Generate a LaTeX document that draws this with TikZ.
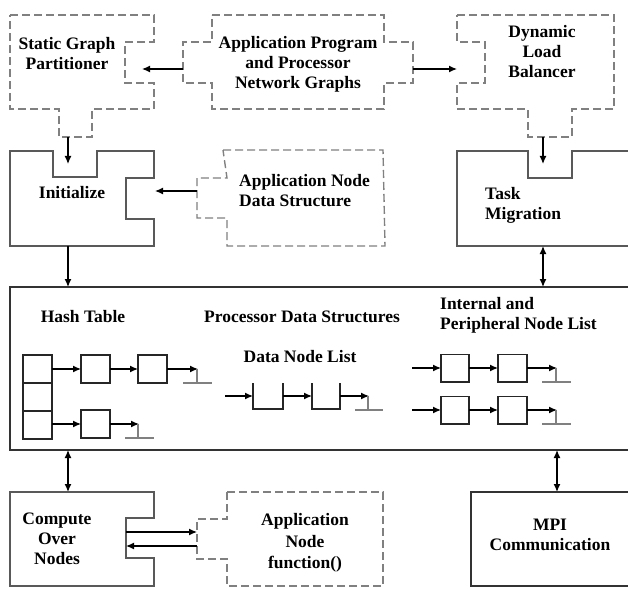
\documentclass[tikz,border=0pt]{standalone}
\usepackage{fontspec}
\setmainfont{Liberation Serif}
\usetikzlibrary{arrows.meta}
\begin{document}
\begin{tikzpicture}[x=1pt,y=-1pt,
  dbox/.style={draw=black!50, dash pattern=on 8pt off 4pt, line width=1.4pt},
  sbox/.style={draw=black!65, line width=1.4pt},
  bigbox/.style={draw=black!80, line width=1.3pt},
  lbl/.style={font=\fontsize{17.5}{20}\selectfont\bfseries, align=center, inner sep=0pt},
  arr/.style={-{Latex[length=8pt,width=7pt]}, line width=1.3pt, black},
  darr/.style={{Latex[length=8pt,width=7pt]}-{Latex[length=8pt,width=7pt]}, line width=1.3pt, black},
  cell/.style={draw=black!85, line width=1.2pt},
  gnd/.style={draw=black!50, line width=1.5pt}]
\path[fill=white] (0,0) rectangle (628,588);
\useasboundingbox (0,0) rectangle (628,588);
\clip (0,0) rectangle (628,588);

% ---------- top row (dashed) ----------
\draw[dbox] (10,15) -- (154,15) -- (154,42) -- (125,42) -- (125,83) -- (154,83) -- (154,109)
  -- (92,109) -- (92,137) -- (59,137) -- (59,109) -- (10,109) -- cycle;
\node[lbl] (sgp) at (67,54) {Static Graph\\Partitioner};

\draw[dbox] (212,15) -- (384,15) -- (384,42) -- (413,42) -- (413,83) -- (384,83) -- (384,109)
  -- (212,109) -- (212,83) -- (183,83) -- (183,42) -- (212,42) -- cycle;
\node[lbl] (app) at (298,64) {Application Program\\and Processor\\Network Graphs};

\draw[dbox] (457,15) -- (614,15) -- (614,109) -- (572,109) -- (572,137) -- (528,137) -- (528,109)
  -- (457,109) -- (457,83) -- (485,83) -- (485,42) -- (457,42) -- cycle;
\node[lbl] (dlb) at (542,52) {Dynamic\\Load\\Balancer};

\coordinate (appL) at (183,69);
\coordinate (sgpIn) at (142,69);
\coordinate (appR) at (413,69);
\coordinate (dlbIn) at (457,69);
\draw[arr] (appL) -- (sgpIn);
\draw[arr] (appR) -- (dlbIn);

\coordinate (sgpTab) at (68,137);
\coordinate (iniIn) at (68,164);
\coordinate (dlbTab) at (543,137);
\coordinate (tmIn) at (543,164);
\draw[arr] (sgpTab) -- (iniIn);
\draw[arr] (dlbTab) -- (tmIn);

% ---------- second row ----------
\draw[sbox] (10,151) -- (53,151) -- (53,177) -- (97,177) -- (97,151) -- (154,151) -- (154,178)
  -- (126,178) -- (126,219) -- (154,219) -- (154,246) -- (10,246) -- cycle;
\node[lbl] (ini) at (72,193) {Initialize};

\draw[dbox] (223,150) -- (383,150) -- (385,246) -- (227,246) -- (227,218) -- (197,218)
  -- (197,178) -- (227,178) -- cycle;
\node[lbl, align=left, anchor=west] (ands) at (239,191) {Application Node\\Data Structure};
\coordinate (andsL) at (197,191);
\coordinate (iniR) at (155,191);
\draw[arr] (andsL) -- (iniR);

\draw[sbox] (700,151) -- (572,151) -- (572,178) -- (528,178) -- (528,151) -- (457,151)
  -- (457,246) -- (700,246);
\node[lbl, align=left, anchor=west] (tm) at (485,205) {Task\\Migration};

% ---------- processor data structures ----------
\draw[bigbox] (700,287) -- (10,287) -- (10,450) -- (700,450);
\coordinate (iniB) at (68,246);
\coordinate (pdsT1) at (68,287);
\coordinate (tmB) at (543,246);
\coordinate (pdsT2) at (543,287);
\draw[arr] (iniB) -- (pdsT1);
\draw[darr] (tmB) -- (pdsT2);

\node[lbl] (hash) at (83,317) {Hash Table};
\node[lbl] (pds) at (302,317) {Processor Data Structures};
\node[lbl] (dnl) at (300,357) {Data Node List};
\node[lbl, align=left, anchor=west] (ipnl) at (440,315) {Internal and\\Peripheral Node List};

% hash table
\draw[cell] (23,355) rectangle (52,383);
\draw[cell] (23,383) rectangle (52,411);
\draw[cell] (23,411) rectangle (52,439);
\draw[cell] (81,355) rectangle (110,383);
\draw[cell] (138,355) rectangle (167,383);
\draw[cell] (81,410) rectangle (110,438);
\draw[arr] (52,369) -- (81,369);
\draw[arr] (110,369) -- (138,369);
\draw[arr] (167,369) -- (198,369);
\draw[gnd] (197,369) -- (197,383) (183,383) -- (212,383);
\draw[arr] (52,424) -- (81,424);
\draw[arr] (110,424) -- (139,424);
\draw[gnd] (138,424) -- (138,438) (125,438) -- (154,438);

% data node list
\draw[arr] (225,396) -- (253,396);
\draw[cell] (253,383) -- (253,409) -- (283,409) -- (283,383);
\draw[arr] (283,396) -- (312,396);
\draw[cell] (312,383) -- (312,409) -- (340,409) -- (340,383);
\draw[arr] (340,396) -- (369,396);
\draw[gnd] (368,396) -- (368,410) (355,410) -- (383,410);

% internal and peripheral node list
\foreach \yc in {368,410}{
  \draw[arr] (412,\yc) -- (441,\yc);
  \draw[cell] (441,\yc-13.5) rectangle (469,\yc+14);
  \draw[arr] (469,\yc) -- (498,\yc);
  \draw[cell] (498,\yc-13.5) rectangle (527,\yc+14);
  \draw[arr] (527,\yc) -- (557,\yc);
  \draw[gnd] (556,\yc) -- (556,\yc+14) (542,\yc+14) -- (571,\yc+14);
}

% ---------- bottom row ----------
\coordinate (pdsB1) at (68,450);
\coordinate (conT) at (68,492);
\coordinate (pdsB2) at (557,450);
\coordinate (mpiT) at (557,492);
\draw[darr] (pdsB1) -- (conT);
\draw[darr] (pdsB2) -- (mpiT);

\draw[sbox] (10,492) -- (154,492) -- (154,518) -- (126,518) -- (126,558) -- (154,558)
  -- (154,586) -- (10,586) -- cycle;
\node[lbl] (con) at (57,539) {Compute\\Over\\Nodes};

\draw[dbox] (227,492) -- (383,492) -- (383,586) -- (227,586) -- (227,559) -- (197,559)
  -- (197,519) -- (227,519) -- cycle;
\node[lbl, font=\fontsize{17.5}{21.5}\selectfont\bfseries] (anf) at (305,543) {Application\\Node\\function()};

\coordinate (conR1) at (126,532);
\coordinate (anfL1) at (197,532);
\coordinate (anfL2) at (197,546);
\coordinate (conR2) at (126,546);
\draw[arr] (conR1) -- (anfL1);
\draw[arr] (anfL2) -- (conR2);

\draw[bigbox] (700,492) -- (471,492) -- (471,586) -- (700,586);
\node[lbl] (mpi) at (550,535) {MPI\\Communication};
\end{tikzpicture}
\end{document}
